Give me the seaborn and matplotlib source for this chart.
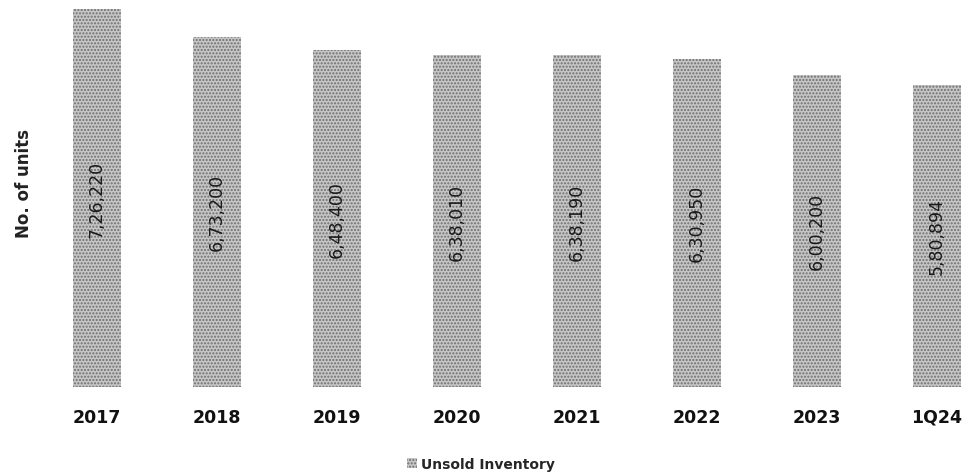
import numpy as np
import pandas as pd
import matplotlib
matplotlib.use('Agg')
import matplotlib.pyplot as plt
import seaborn as sns

# data
periods = ['2017', '2018', '2019', '2020', '2021', '2022', '2023', '1Q24']
unsold_units = [726220, 673200, 648400, 638010, 638190, 630950, 600200, 580894]
series_name = 'Unsold Inventory'


def indian_format(n):
    """7,26,220 style grouping"""
    s = str(int(n))
    last3, rest = s[-3:], s[:-3]
    groups = []
    while len(rest) > 2:
        groups.insert(0, rest[-2:])
        rest = rest[:-2]
    if rest:
        groups.insert(0, rest)
    return ','.join(groups + [last3])


df = pd.DataFrame({'Period': periods, 'Units': unsold_units})

sns.set_theme(style='white')
plt.rcParams['font.family'] = ['DejaVu Sans']
plt.rcParams['hatch.linewidth'] = 1.0

fig = plt.figure(figsize=(9.66, 4.77), dpi=100)
ax = fig.add_axes([55 / 966, 89 / 477, 912 / 966, 383 / 477])

sns.barplot(data=df, x='Period', y='Units', color='#c6c6c6', width=0.4,
            label=series_name, ax=ax, saturation=1)

# stippled look of the original bars
for bar in ax.patches:
    bar.set_hatch('.....')
    bar.set_edgecolor('#6e6e6e')
    bar.set_linewidth(0)

ax.bar_label(ax.containers[0], labels=[indian_format(v) for v in unsold_units],
             label_type='center', rotation=90, fontsize=12.5, color='#1a1a1a')

ax.set_xlim(-0.35, 7.25)
ax.set_ylim(0, 726220 * 383 / 378)
ax.set_yticks([])
ax.set_xlabel('')
ax.set_ylabel('No. of units', fontsize=12, fontweight='semibold', color='#222222')
ax.yaxis.set_label_coords(-0.024, 0.535)
ax.tick_params(axis='x', length=0, pad=15, labelsize=12.5, labelcolor='#111111')
for lbl in ax.get_xticklabels():
    lbl.set_fontweight('bold')
sns.despine(ax=ax, left=True, bottom=True)

handles, labels = ax.get_legend_handles_labels()
if ax.get_legend() is not None:
    ax.get_legend().remove()
fig.legend(handles, labels, loc='center', bbox_to_anchor=(481 / 966, 1 - 465 / 477),
           frameon=False, handlelength=0.7, handleheight=0.7, handletextpad=0.3,
           prop={'size': 10, 'weight': 'bold'})

fig.savefig('out.png', dpi=100)
